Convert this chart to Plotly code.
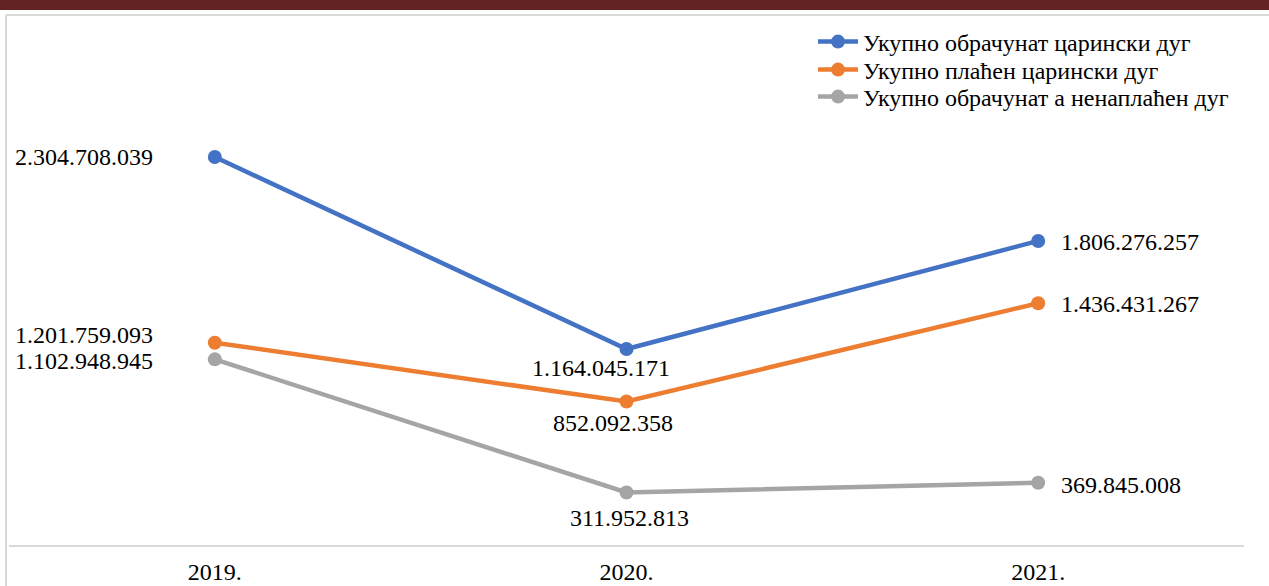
import plotly.graph_objects as go

years = ["2019.", "2020.", "2021."]
series_names = [
    "Укупно обрачунат царински дуг",
    "Укупно плаћен царински дуг",
    "Укупно обрачунат а ненаплаћен дуг",
]
obracunat = [2304708039, 1164045171, 1806276257]
placen = [1201759093, 852092358, 1436431267]
nenaplacen = [1102948945, 311952813, 369845008]
colors = ["#4472C4", "#ED7D31", "#A5A5A5"]

W, H = 1269, 586
ML, MR, MT, MB = 9, 25, 40, 41
FONT = "Liberation Serif"
FS = 24

def fmt(v):
    return f"{v:,}".replace(",", ".")

pw = W - ML - MR
ph = H - MT - MB
def px_x(p):
    return (p - ML) / pw
def px_y(p):
    return (H - MB - p) / ph

legend_ids = ["legend", "legend2", "legend3"]
legend_rows = [42, 70, 97]

fig = go.Figure()
all_series = [obracunat, placen, nenaplacen]
for name, vals, c, lid in zip(series_names, all_series, colors, legend_ids):
    fig.add_trace(go.Scatter(
        x=years, y=vals, name=name, mode="lines+markers",
        line=dict(color=c, width=4.5),
        marker=dict(color=c, size=14),
        legend=lid,
    ))

# label offsets (pixels) per series per point: (xanchor, xshift, yshift)
offsets = [
    [("right", -60, 0), ("center", -26, -19), ("left", 21, -1)],
    [("right", -60, 8), ("center", -14, -21), ("left", 21, -1)],
    [("right", -60, -2), ("center", 3, -26), ("left", 21, -2)],
]
for vals, offs in zip(all_series, offsets):
    for i, (yv, (xa, xs, ys)) in enumerate(zip(vals, offs)):
        fig.add_annotation(
            x=i, y=yv, xref="x", yref="y", text=fmt(yv), showarrow=False,
            xanchor=xa, yanchor="middle", xshift=xs, yshift=ys,
            font=dict(family=FONT, size=FS, color="#000000"),
        )

shapes = [
    dict(type="rect", xref="paper", yref="paper", x0=px_x(-2), x1=px_x(W + 2),
         y0=px_y(10), y1=px_y(-2), fillcolor="#622423", line=dict(width=0), layer="above"),
    dict(type="line", xref="paper", yref="paper", x0=px_x(6), x1=px_x(W + 2),
         y0=px_y(15), y1=px_y(15), line=dict(color="#D9D9D9", width=2)),
    dict(type="line", xref="paper", yref="paper", x0=px_x(6), x1=px_x(6),
         y0=px_y(15), y1=px_y(H + 2), line=dict(color="#D9D9D9", width=2)),
]

legends = {}
for lid, row in zip(legend_ids, legend_rows):
    legends[lid] = dict(
        x=px_x(813), y=px_y(row), xanchor="left", yanchor="middle",
        font=dict(family=FONT, size=FS, color="#000000"),
        bgcolor="rgba(0,0,0,0)", itemwidth=40, tracegroupgap=0,
    )

fig.update_layout(
    width=W, height=H,
    margin=dict(l=ML, r=MR, t=MT, b=MB, pad=0, autoexpand=False),
    paper_bgcolor="white", plot_bgcolor="white",
    showlegend=True,
    xaxis=dict(
        type="category", automargin=False,
        showgrid=False, zeroline=False, showline=True, linecolor="#D9D9D9", linewidth=2,
        ticks="", tickfont=dict(family=FONT, size=FS, color="#000000"),
        ticklabelstandoff=4, range=[-0.5, 2.5], fixedrange=True,
    ),
    yaxis=dict(
        range=[0, 3.0e9], showgrid=False, zeroline=False, showticklabels=False,
        showline=False, ticks="", fixedrange=True, automargin=False,
    ),
    shapes=shapes,
    **legends,
)

fig.write_html(
    "out.html",
    config={"displayModeBar": False},
    post_script="document.body.style.margin='0px';document.body.style.overflow='hidden';",
)
